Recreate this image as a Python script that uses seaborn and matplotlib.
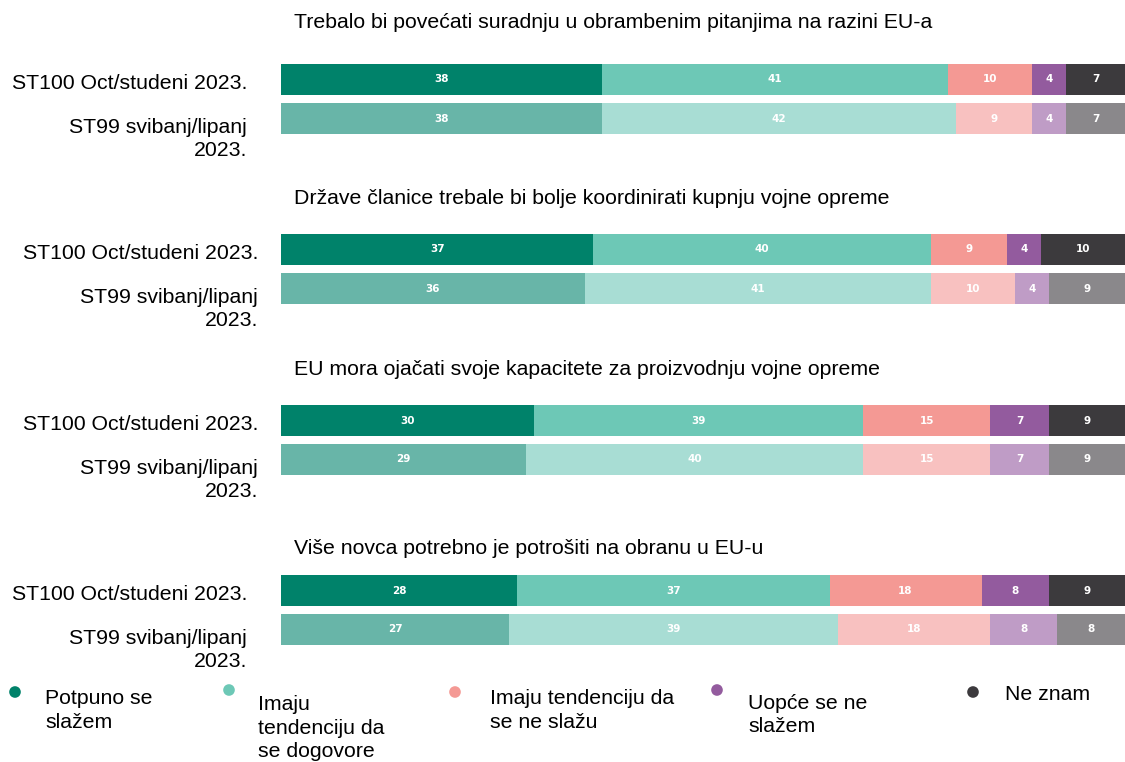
import matplotlib
matplotlib.use("Agg")
import matplotlib.pyplot as plt
import pandas as pd
import seaborn as sns

# Data
questions = [
    "Trebalo bi povećati suradnju u obrambenim pitanjima na razini EU-a",
    "Države članice trebale bi bolje koordinirati kupnju vojne opreme",
    "EU mora ojačati svoje kapacitete za proizvodnju vojne opreme",
    "Više novca potrebno je potrošiti na obranu u EU-u",
]
waves = ["ST100 Oct/studeni 2023.", "ST99 svibanj/lipanj\n2023."]
categories = ["Potpuno se\nslažem", "Imaju\ntendenciju da\nse dogovore",
              "Imaju tendenciju da\nse ne slažu", "Uopće se ne\nslažem", "Ne znam"]
st100 = [[38, 41, 10, 4, 7], [37, 40, 9, 4, 10], [30, 39, 15, 7, 9], [28, 37, 18, 8, 9]]
st99 = [[38, 42, 9, 4, 7], [36, 41, 10, 4, 9], [29, 40, 15, 7, 9], [27, 39, 18, 8, 8]]

colors_new = ["#00826A", "#6DC8B6", "#F49994", "#935B9E", "#3C3A3D"]
colors_old = ["#68B5A8", "#A8DDD4", "#F8C1C0", "#BF9CC6", "#8A888B"]

sns.set_style("white")
plt.rcParams["font.family"] = ["Liberation Sans", "DejaVu Sans"]
plt.rcParams["text.color"] = "black"

W, H = 1125, 762
FS = 15.3
fig = plt.figure(figsize=(11.25, 7.62), dpi=100)

# layout in pixels
group_tops = [60, 230, 401, 571]
title_y = [22, 198, 370, 549]
label_right = [247, 258, 258, 247]
left_px = 281

for i, q in enumerate(questions):
    top = group_tops[i]
    ax = fig.add_axes([left_px / W, 1 - (top + 78) / H, 1 - left_px / W, 78 / H])
    df = pd.DataFrame({"wave": waves})
    for k, cat in enumerate(categories):
        df[cat] = [st100[i][k], st99[i][k]]
    cum = df[categories].cumsum(axis=1)
    # draw cumulative bars from the last category backwards
    for k in reversed(range(len(categories))):
        sns.barplot(x=cum[categories[k]], y=df["wave"], hue=df["wave"],
                    palette={waves[0]: colors_new[k], waves[1]: colors_old[k]},
                    width=0.77, dodge=False, legend=False, saturation=1,
                    edgecolor="none", linewidth=0, ax=ax, orient="h")
    for j in range(2):
        for k, cat in enumerate(categories):
            v = df[cat].iloc[j]
            ax.text(cum[cat].iloc[j] - v / 2, j, str(v), ha="center", va="center",
                    color="white", fontsize=7.5, fontweight="bold", family="DejaVu Sans")
    ax.set_xlim(0, 100)
    ax.set_ylim(1.5, -0.5)
    ax.set_xticks([])
    ax.set_yticks([])
    ax.set_xlabel("")
    ax.set_ylabel("")
    sns.despine(ax=ax, left=True, bottom=True)
    off = -(left_px - label_right[i]) / (W - left_px)
    tr = ax.get_yaxis_transform()
    ax.text(off, 0.1, waves[0], transform=tr, ha="right", va="center", fontsize=FS)
    ax.text(off, 0.98, waves[1], transform=tr, ha="right", va="top", fontsize=FS,
            linespacing=1.3)
    fig.text(294 / W, 1 - title_y[i] / H, q, ha="left", va="center", fontsize=FS)

# legend
lax = fig.add_axes([0, 0, 1, 92 / H])
lax.set_xlim(0, W)
lax.set_ylim(762, 670)
lax.axis("off")
dot_x = [15, 229, 455, 717, 973]
dot_y = [692, 690, 692, 690, 692]
text_x = [45, 258, 490, 748, 1005]
text_top = [689, 695, 689, 694, 685]
sns.scatterplot(x=dot_x, y=dot_y, hue=categories, palette=colors_new, s=70,
                edgecolor="none", legend=False, ax=lax)
for k, cat in enumerate(categories):
    lax.text(text_x[k], text_top[k], cat, ha="left", va="top", fontsize=FS,
             linespacing=1.3)

fig.savefig("out.png", dpi=100)
